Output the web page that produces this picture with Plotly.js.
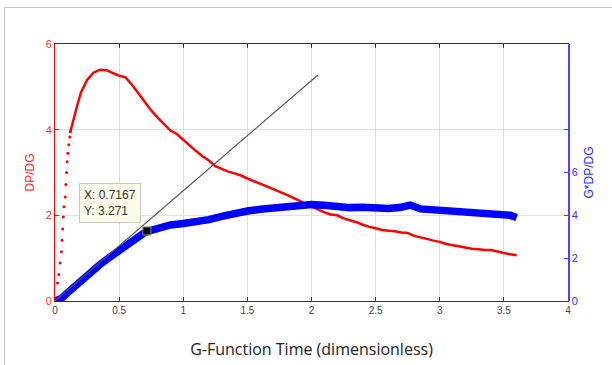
<!DOCTYPE html>
<html>
<head>
<meta charset="utf-8">
<script src="https://cdn.plot.ly/plotly-3.0.1.min.js"></script>
<style>
html,body{margin:0;padding:0;background:#fff;}
#wrap{position:relative;width:612px;height:365px;}
#chart{width:612px;height:365px;}
#frame{position:absolute;left:4px;top:7px;width:620px;height:400px;border-top:1px solid #c4c4c4;border-left:1px solid #c4c4c4;pointer-events:none;}
</style>
</head>
<body>
<div id="wrap"><div id="chart"></div><div id="frame"></div></div>
<script>
// DP/DG, early sparse (dotted) part
const redDotX = [0.0,0.02,0.03,0.04,0.05,0.055,0.06,0.065,0.07,0.08,0.085,0.09,0.095,0.1,0.108,0.115,0.12];
const redDotY = [0.0,0.42,0.62,0.89,1.15,1.42,1.68,1.96,2.2,2.43,2.72,3.0,3.25,3.45,3.65,3.83,3.95];
// DP/DG, dense part
const redX = [0.12,0.14,0.17,0.2,0.25,0.3,0.35,0.4,0.45,0.5,0.55,0.6,0.65,0.7,0.75,0.8,0.85,0.9,0.95,1.0,1.05,1.1,1.15,1.2,1.25,1.3,1.35,1.4,1.45,1.5,1.55,1.6,1.65,1.7,1.75,1.8,1.85,1.9,1.95,2.0,2.05,2.1,2.15,2.2,2.25,2.3,2.35,2.4,2.45,2.5,2.55,2.6,2.65,2.7,2.75,2.8,2.85,2.9,2.95,3.0,3.05,3.1,3.15,3.2,3.25,3.3,3.35,3.4,3.45,3.5,3.55,3.6];
const redY = [3.95,4.2,4.53,4.85,5.16,5.33,5.4,5.39,5.33,5.26,5.22,5.05,4.85,4.65,4.45,4.28,4.12,3.98,3.9,3.76,3.62,3.5,3.38,3.28,3.15,3.08,3.02,2.98,2.93,2.86,2.8,2.73,2.68,2.62,2.56,2.49,2.42,2.35,2.28,2.2,2.13,2.07,2.02,2.0,1.93,1.89,1.84,1.78,1.73,1.7,1.66,1.64,1.63,1.6,1.59,1.52,1.49,1.45,1.41,1.38,1.33,1.3,1.27,1.24,1.22,1.21,1.19,1.19,1.15,1.12,1.09,1.07];
// G*DP/DG
const blueX = [0,0.05,0.1,0.15,0.2,0.25,0.3,0.35,0.4,0.45,0.5,0.55,0.6,0.65,0.7,0.75,0.8,0.9,1.0,1.1,1.2,1.3,1.4,1.5,1.6,1.7,1.8,1.9,2.0,2.1,2.2,2.3,2.4,2.5,2.6,2.7,2.77,2.85,2.95,3.05,3.15,3.25,3.35,3.45,3.55,3.6];
const blueY = [0,0.12,0.4,0.68,0.92,1.18,1.45,1.7,1.93,2.15,2.36,2.56,2.8,2.98,3.2,3.3,3.4,3.55,3.62,3.7,3.8,3.95,4.1,4.2,4.28,4.35,4.4,4.5,4.5,4.47,4.4,4.36,4.38,4.33,4.32,4.38,4.48,4.3,4.25,4.28,4.15,4.12,4.1,4.06,4.0,3.9];
// tangent line and data cursor
const tanX = [0, 2.05];
const tanY = [0, 10.55];
const cursorX = [0.7167];
const cursorY = [3.271];
const xTicks = [0,0.5,1,1.5,2,2.5,3,3.5,4];
const yTicks = [0,2,4,6];
const y2Ticks = [0,2,4,6];

const traces = [
  {x: redDotX, y: redDotY, mode: 'markers', marker: {color: '#ff0000', size: 3}, yaxis: 'y', hoverinfo: 'none'},
  {x: redX, y: redY, mode: 'lines', line: {color: '#ff0000', width: 2.5}, yaxis: 'y', hoverinfo: 'none'},
  {x: blueX, y: blueY, mode: 'lines', line: {color: '#0000ff', width: 7.5}, yaxis: 'y2', hoverinfo: 'none'},
  {x: tanX, y: tanY, mode: 'lines', line: {color: '#555555', width: 1.2}, yaxis: 'y2', hoverinfo: 'none'},
  {x: cursorX, y: cursorY, mode: 'markers', marker: {color: '#000', size: 8, symbol: 'square', line: {color: '#888', width: 1}}, yaxis: 'y2', hoverinfo: 'none'}
];

const layout = {
  width: 612, height: 365,
  margin: {l: 55, r: 44, t: 44, b: 64},
  paper_bgcolor: '#fff', plot_bgcolor: '#fff',
  showlegend: false,
  font: {family: 'Liberation Sans, Arial, sans-serif'},
  xaxis: {
    range: [0, 4], tickvals: xTicks, ticktext: xTicks.map(String),
    showgrid: true, gridcolor: '#dcdcdc', gridwidth: 1,
    zeroline: false, showline: true, linecolor: '#333', linewidth: 1,
    mirror: 'ticks', ticks: 'inside', ticklen: 4, tickcolor: '#333',
    tickfont: {size: 10, color: '#444'},
    title: {text: 'G-Function Time (dimensionless)', font: {family: 'Open Sans, sans-serif', size: 16, color: '#222'}, standoff: 28}
  },
  yaxis: {
    range: [0, 6], tickvals: yTicks, ticktext: yTicks.map(String),
    showgrid: true, gridcolor: '#ffd6d6', gridwidth: 1,
    zeroline: false, showline: true, linecolor: '#ff0000', linewidth: 1,
    mirror: 'ticks', ticks: 'inside', ticklen: 4, tickcolor: '#ff0000',
    tickfont: {size: 11, color: '#ff3030'},
    title: {text: 'DP/DG', font: {size: 12, color: '#ff2020'}, standoff: 8}
  },
  yaxis2: {
    range: [0, 12], tickvals: y2Ticks, ticktext: y2Ticks.map(String),
    overlaying: 'y', side: 'right', showgrid: false,
    zeroline: false, showline: true, linecolor: '#5a3cff', linewidth: 1.5,
    ticks: 'inside', ticklen: 4, tickcolor: '#4040ff',
    tickfont: {size: 11, color: '#3333ff'},
    title: {text: 'G*DP/DG', font: {size: 12, color: '#2a2aff'}, standoff: 8}
  },
  annotations: [{
    xref: 'paper', yref: 'paper', x: 0.047, y: 0.459, xanchor: 'left', yanchor: 'top',
    text: 'X: 0.7167<br>Y: 3.271', align: 'left', showarrow: false,
    bgcolor: '#fbfbea', bordercolor: '#c8c8c0', borderwidth: 1, borderpad: 4,
    font: {size: 12, color: '#333'}
  }]
};

Plotly.newPlot('chart', traces, layout, {displayModeBar: false, staticPlot: true});
</script>
</body>
</html>
